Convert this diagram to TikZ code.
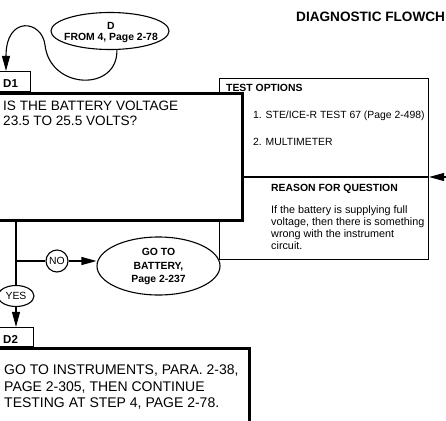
\documentclass[tikz,border=0pt]{standalone}
\usepackage{fontspec}
\setmainfont{Liberation Sans}
\usetikzlibrary{arrows.meta,shapes.geometric}
\begin{document}
\begin{tikzpicture}[x=1pt,y=-1pt,
  thinl/.style={line width=1.1pt},
  thickl/.style={line width=3pt},
  lt/.style={inner sep=0pt, anchor=base west},
  ct/.style={inner sep=0pt, anchor=base},
  arr/.style={line width=1.1pt, -{Triangle[length=15pt,width=8pt]}},
  bigf/.style={font=\fontsize{13.6pt}{16pt}\selectfont},
  bigfb/.style={font=\fontsize{14pt}{16pt}\selectfont},
  boldf/.style={font=\fontsize{10.4pt}{12pt}\selectfont\bfseries},
  regf/.style={font=\fontsize{10.4pt}{12pt}\selectfont},
  reasf/.style={font=\fontsize{10.8pt}{12pt}\selectfont},
  labf/.style={font=\fontsize{11.5pt}{13pt}\selectfont\bfseries},
  box/.style={draw, fill=white, inner sep=0pt},
]
\useasboundingbox (0,0) rectangle (446,420);
\clip (0,0) rectangle (446,420);

% title
\node[lt, font=\fontsize{13.6pt}{15pt}\selectfont\bfseries] (title) at (296,22) {DIAGNOSTIC FLOWCH};

% start ellipse
\node[draw, thinl, ellipse, minimum width=118pt, minimum height=37pt, inner sep=0pt] (dstart) at (110,31) {};
\node[ct, boldf] (dstartA) at (111,29.5) {D};
\node[ct, boldf] (dstartB) at (111,41) {FROM 4, Page 2-78};

% test options box
\node[box, thinl, anchor=north west, minimum width=209pt, minimum height=181pt] (topt) at (219,78) {};
\node[lt, boldf] (toh) at (226,91) {TEST OPTIONS};
\node[lt, regf] (to1) at (253,118) {1. STE/ICE-R TEST 67 (Page 2-498)};
\node[lt, regf] (to2) at (253,145) {2. MULTIMETER};
\coordinate (divL) at (241,177);
\draw[thinl] (divL) -- (divL -| topt.east);
\node[ct, boldf] (rh) at (334.5,191) {REASON FOR QUESTION};
\node[lt, reasf] (r1) at (271,213) {If the battery is supplying full};
\node[lt, reasf] (r2) at (271,225) {voltage, then there is something};
\node[lt, reasf] (r3) at (271,237) {wrong with the instrument};
\node[lt, reasf] (r4) at (271,249) {circuit.};
\coordinate (rin) at (448,177);
\draw[arr] (rin) -- (rin -| topt.east);

% D1 label
\node[box, thinl, anchor=south west, minimum width=31pt, minimum height=20pt] (d1) at (-1,92) {};
\node[lt, labf] (d1t) at (3,87) {D1};

% question box
\node[box, thickl, anchor=north west, minimum width=246pt, minimum height=127pt] (q1) at (-5,92) {};
\node[lt, bigf] (q1a) at (3,110) {IS THE BATTERY VOLTAGE};
\node[lt, bigf] (q1b) at (3,125) {23.5 TO 25.5 VOLTS?};

% entry curve
\draw[arr] (dstart.-70) .. controls (118,92) and (50,90) .. (45,45)
  .. controls (42,20) and (6,15) .. ([xshift=7pt]d1.north west);

% branches
\coordinate (vtop) at ([xshift=21pt]q1.south west);
\node[draw, thinl, fill=white, ellipse, minimum width=36pt, minimum height=21pt, inner sep=0pt, regf] (yes) at (16,296) {YES};
\draw[thinl] (vtop) -- (yes.north);
\node[draw, thinl, fill=white, circle, minimum size=22pt, inner sep=0pt, regf] (no) at (57,261) {NO};
\draw[thinl] (vtop |- no) -- (no.west);
\node[draw, thinl, ellipse, minimum width=123pt, minimum height=58pt, inner sep=0pt] (batt) at (158.5,266) {};
\node[ct, boldf] (batta) at (158.5,255) {GO TO};
\node[ct, boldf] (battb) at (158.5,269) {BATTERY,};
\node[ct, boldf] (battc) at (158.5,282) {Page 2-237};
\draw[arr] (no.east) -- (no.east -| batt.west);

% D2 label
\node[box, thinl, anchor=south west, minimum width=34pt, minimum height=19pt] (d2) at (-1,347) {};
\node[lt, labf] (d2t) at (3,343) {D2};
\draw[arr] (yes.south) -- (yes.south |- d2.north);

% result box
\node[box, thickl, anchor=north west, minimum width=253pt, minimum height=120pt] (q2) at (-5,347) {};
\node[lt, bigfb] (q2a) at (4,374.3) {GO TO INSTRUMENTS, PARA. 2-38,};
\node[lt, bigfb] (q2b) at (4,391) {PAGE 2-305, THEN CONTINUE};
\node[lt, bigfb] (q2c) at (4,407.7) {TESTING AT STEP 4, PAGE 2-78.};
\end{tikzpicture}
\end{document}
